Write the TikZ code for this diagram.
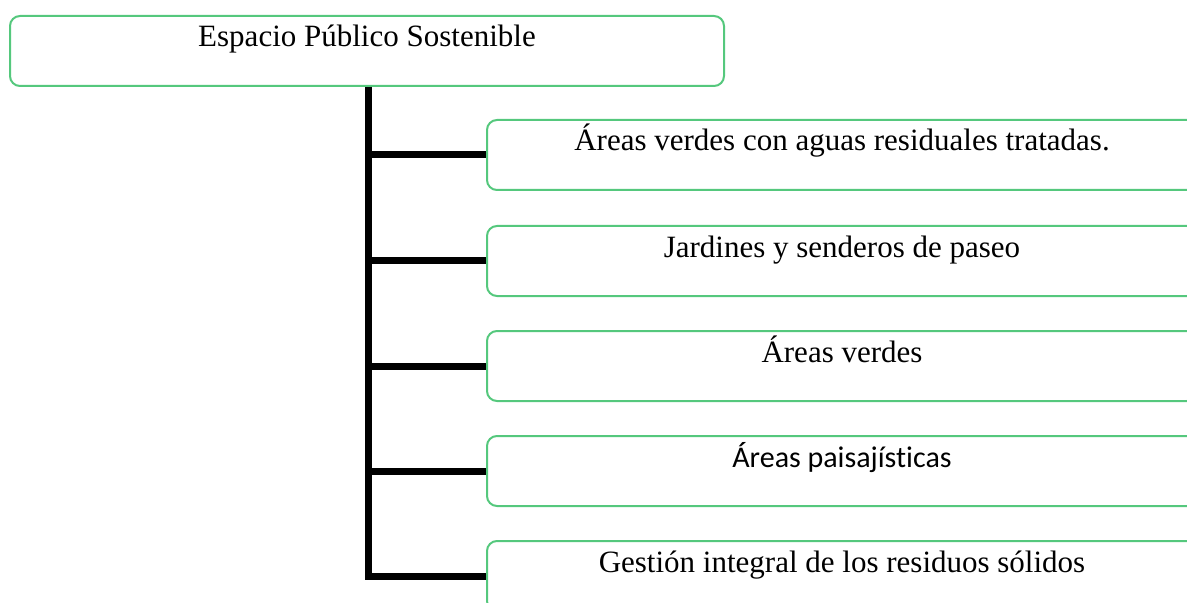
\documentclass[tikz,border=0pt]{standalone}
\usepackage{fontspec}
\setmainfont{Liberation Serif}
\newfontfamily\calib[Ligatures=NoCommon]{Carlito}
\definecolor{boxgreen}{RGB}{85,200,125}
\begin{document}
\begin{tikzpicture}[x=1bp,y=-1bp,
  box/.style={draw=boxgreen, line width=2bp, rounded corners=10bp, fill=white,
    inner xsep=0pt, inner ysep=0pt, text height=31bp, text depth=39bp,
    font=\fontsize{31bp}{36bp}\selectfont},
  conn/.style={line width=7bp, black}]
\useasboundingbox (0,0) rectangle (1187,603);
\node[box, minimum width=714bp, anchor=north west] (top) at (9,15) {Espacio Público Sostenible};
\node[box, minimum width=710bp, anchor=north west] (b1) at (486,119) {Áreas verdes con aguas residuales tratadas.};
\node[box, minimum width=710bp, anchor=north west] (b2) at (486,225) {Jardines y senderos de paseo};
\node[box, minimum width=710bp, anchor=north west] (b3) at (486,330) {Áreas verdes};
\node[box, minimum width=710bp, anchor=north west, font=\calib\fontsize{30bp}{36bp}\selectfont] (b4) at (486,435) {Áreas paisajísticas};
\node[box, minimum width=710bp, anchor=north west] (b5) at (486,540) {Gestión integral de los residuos sólidos};
\coordinate (trunk) at ([xshift=1.5bp]top.south);
\draw[conn] (trunk) |- (b5.west);
\draw[conn] (trunk |- b1.west) -- (b1.west);
\draw[conn] (trunk |- b2.west) -- (b2.west);
\draw[conn] (trunk |- b3.west) -- (b3.west);
\draw[conn] (trunk |- b4.west) -- (b4.west);
\end{tikzpicture}
\end{document}
